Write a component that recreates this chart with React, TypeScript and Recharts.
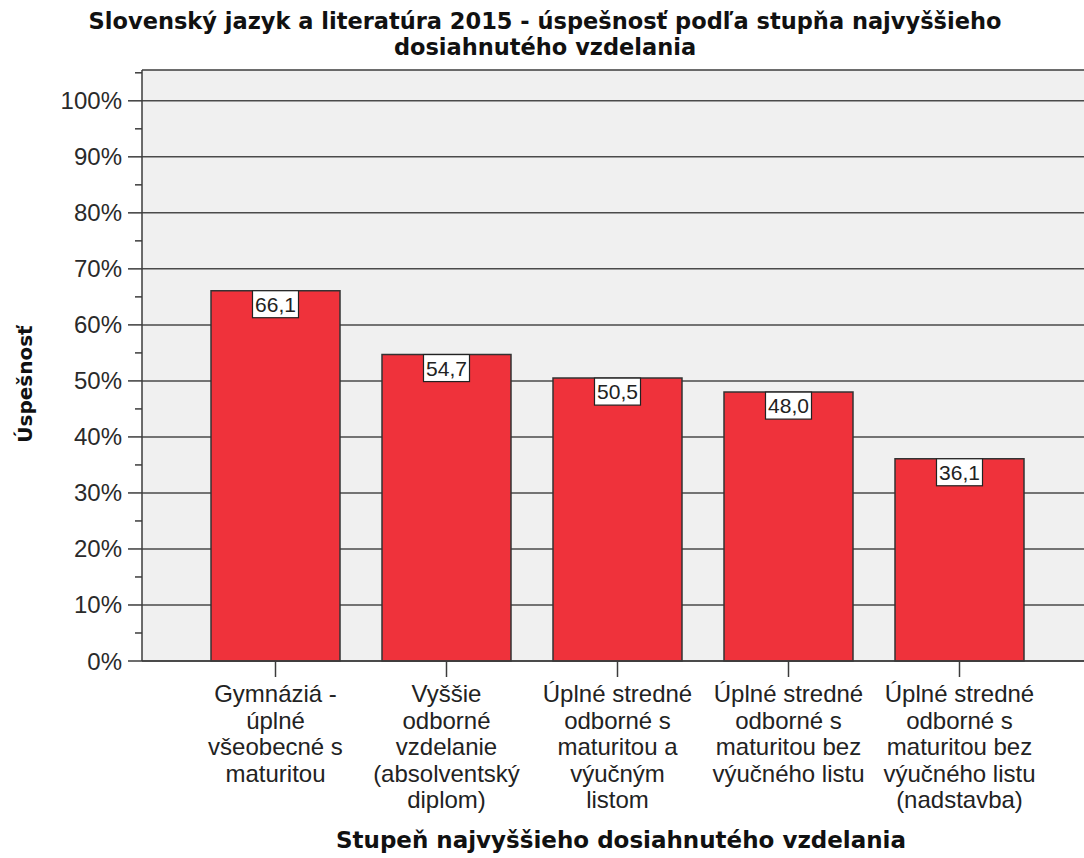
import { Bar, BarChart, CartesianGrid, LabelList, ReferenceLine, XAxis, YAxis } from 'recharts'

const categories = ['gym', 'vos', 'usov', 'usos', 'usosn']
const categoryLines = [
  ['Gymnáziá -', 'úplné', 'všeobecné s', 'maturitou'],
  ['Vyššie', 'odborné', 'vzdelanie', '(absolventský', 'diplom)'],
  ['Úplné stredné', 'odborné s', 'maturitou a', 'výučným', 'listom'],
  ['Úplné stredné', 'odborné s', 'maturitou bez', 'výučného listu'],
  ['Úplné stredné', 'odborné s', 'maturitou bez', 'výučného listu', '(nadstavba)'],
]
const values = [66.1, 54.7, 50.5, 48.0, 36.1]
const majorTicks = [0, 10, 20, 30, 40, 50, 60, 70, 80, 90, 100]
const allTicks = [0, 5, 10, 15, 20, 25, 30, 35, 40, 45, 50, 55, 60, 65, 70, 75, 80, 85, 90, 95, 100, 105]

const data = categories.map((c, i) => ({ key: c, value: values[i] }))

const FONT = '"Liberation Sans", Arial, sans-serif'
const BOLD = '"DejaVu Sans", Verdana, sans-serif'
const LINE = '#3c3c3c'

function YTick(props: any) {
  const { x, y, payload } = props
  const major = payload.value % 10 === 0
  return (
    <g>
      <line x1={x - (major ? 14 : 7)} x2={x} y1={y} y2={y} stroke={LINE} strokeWidth={1.5} />
      {major && (
        <text x={x - 20} y={y} dy={8.5} textAnchor="end" fontSize={24} fill="#2a2a2a" fontFamily={FONT}>
          {payload.value}%
        </text>
      )}
    </g>
  )
}

function XTick(props: any) {
  const { x, y, payload } = props
  const lines = categoryLines[payload.index] || []
  return (
    <text textAnchor="middle" fontSize={24} fill="#222" fontFamily={FONT}>
      {lines.map((l, i) => (
        <tspan key={i} x={x} y={y + 23 + i * 26.5}>
          {l}
        </tspan>
      ))}
    </text>
  )
}

function ValueLabel(props: any) {
  const { x, y, width, value } = props
  const cx = x + width / 2
  return (
    <g>
      <rect x={cx - 23} y={y} width={46} height={27} fill="#fff" stroke="#222" strokeWidth={1.2} />
      <text x={cx} y={y + 21} textAnchor="middle" fontSize={21} fill="#222" fontFamily={FONT}>
        {Number(value).toFixed(1).replace('.', ',')}
      </text>
    </g>
  )
}

export default function App() {
  return (
    <div style={{ position: 'absolute', left: 0, top: 0, width: 1084, height: 858, background: '#fff' }}>
      <div
        style={{
          position: 'absolute',
          left: 0,
          top: 8,
          width: 1090,
          textAlign: 'center',
          fontFamily: BOLD,
          fontWeight: 'bold',
          fontSize: 22.5,
          lineHeight: '26px',
          color: '#111',
        }}
      >
        Slovenský jazyk a literatúra 2015 - úspešnosť podľa stupňa najvyššieho
        <br />
        dosiahnutého vzdelania
      </div>
      <div
        style={{
          position: 'absolute',
          left: 25 - 100,
          top: 384 - 12,
          width: 200,
          textAlign: 'center',
          transform: 'rotate(-90deg)',
          fontFamily: BOLD,
          fontWeight: 'bold',
          fontSize: 20,
          lineHeight: '24px',
          color: '#111',
        }}
      >
        Úspešnosť
      </div>
      <div
        style={{
          position: 'absolute',
          left: 321,
          top: 827,
          width: 600,
          textAlign: 'center',
          fontFamily: BOLD,
          fontWeight: 'bold',
          fontSize: 23,
          lineHeight: '26px',
          color: '#111',
        }}
      >
        Stupeň najvyššieho dosiahnutého vzdelania
      </div>
      <div style={{ position: 'absolute', left: 0, top: 0 }}>
        <BarChart width={1084} height={858} data={data} margin={{ top: 70, right: 0, bottom: 57, left: 0 }}>
          <CartesianGrid
            fill="#f0f0f0"
            vertical={false}
            horizontalValues={majorTicks}
            stroke="#4a4a4a"
            strokeWidth={1.5}
          />
          <ReferenceLine y={105.5} stroke={LINE} strokeWidth={1.5} />
          <XAxis
            dataKey="key"
            interval={0}
            height={140}
            padding={{ left: 48, right: 39 }}
            axisLine={{ stroke: LINE, strokeWidth: 1.5 }}
            tickLine={{ stroke: LINE, strokeWidth: 1.5 }}
            tickSize={16}
            tickMargin={2}
            tick={<XTick />}
          />
          <YAxis
            width={142}
            domain={[0, 105.5]}
            ticks={allTicks}
            interval={0}
            axisLine={{ stroke: LINE, strokeWidth: 1.5 }}
            tickLine={false}
            tickSize={0}
            tickMargin={0}
            tick={<YTick />}
          />
          <Bar dataKey="value" fill="#ef323b" stroke="#333" strokeWidth={1.5} barSize={129} isAnimationActive={false}>
            <LabelList dataKey="value" content={<ValueLabel />} />
          </Bar>
        </BarChart>
      </div>
    </div>
  )
}
